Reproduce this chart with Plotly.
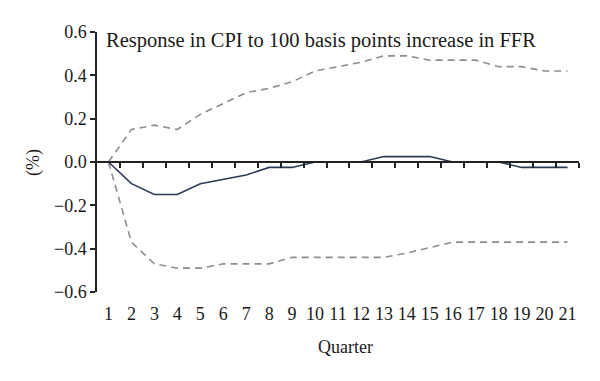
import plotly.graph_objects as go

quarters = list(range(1, 22))
response = [0, -0.10, -0.15, -0.15, -0.10, -0.08, -0.06, -0.025, -0.025, 0, 0, 0,
            0.025, 0.025, 0.025, 0, 0, 0, -0.025, -0.025, -0.025]
upper = [0, 0.15, 0.17, 0.15, 0.22, 0.27, 0.32, 0.34, 0.37, 0.42, 0.44, 0.46,
         0.49, 0.49, 0.47, 0.47, 0.47, 0.44, 0.44, 0.42, 0.42]
lower = [0, -0.37, -0.47, -0.49, -0.49, -0.47, -0.47, -0.47, -0.44, -0.44, -0.44, -0.44,
         -0.44, -0.42, -0.395, -0.37, -0.37, -0.37, -0.37, -0.37, -0.37]
y_ticks = [0.6, 0.4, 0.2, 0.0, -0.2, -0.4, -0.6]
y_tick_text = ["0.6", "0.4", "0.2", "0.0", "\u22120.2", "\u22120.4", "\u22120.6"]
title_text = "Response in CPI to 100 basis points increase in FFR"

FONT = "Liberation Serif"
fig = go.Figure()
dash_style = dict(color="#8e8e8e", width=1.6, dash="7px,5px")
fig.add_trace(go.Scatter(x=quarters, y=upper, mode="lines", line=dash_style, showlegend=False))
fig.add_trace(go.Scatter(x=quarters, y=lower, mode="lines", line=dash_style, showlegend=False))
fig.add_trace(go.Scatter(x=quarters, y=response, mode="lines",
                         line=dict(color="#2c3b55", width=1.6), showlegend=False))
# invisible trace so the zero-line axis (xaxis2) is drawn
fig.add_trace(go.Scatter(x=[quarters[0]], y=[0], xaxis="x2", mode="markers",
                         marker=dict(opacity=0), showlegend=False, hoverinfo="skip"))

ymin, ymax = min(y_ticks), max(y_ticks)
xr = [quarters[0] - 0.5, quarters[-1] + 0.5]
zero_pos = (0 - ymin) / (ymax - ymin)

fig.update_layout(
    width=600, height=381,
    margin=dict(l=97, r=21, t=32, b=89),
    paper_bgcolor="white", plot_bgcolor="white",
    font=dict(family=FONT, size=18, color="#1a1a1a"),
    xaxis=dict(range=xr, tickvals=quarters, ticktext=[str(q) for q in quarters],
               showline=False, showgrid=False, zeroline=False, ticks="",
               ticklabelstandoff=9, automargin=False),
    xaxis2=dict(range=xr, overlaying="x", anchor="free", position=zero_pos,
                tickvals=[q + 0.5 for q in quarters], showticklabels=False,
                showline=True, linecolor="#222", linewidth=1.5,
                ticks="outside", ticklen=5, tickwidth=1.5, tickcolor="#222",
                showgrid=False, zeroline=False, automargin=False),
    yaxis=dict(range=[ymin, ymax], tickvals=y_ticks, ticktext=y_tick_text,
               showline=True, linecolor="#222", linewidth=1.5,
               ticks="outside", ticklen=5, tickwidth=1.5, tickcolor="#222",
               showgrid=False, zeroline=False, automargin=False),
    annotations=[
        dict(text=title_text, xref="paper", yref="paper", x=0.014, y=1.0,
             xanchor="left", yanchor="middle", yshift=-8, showarrow=False,
             font=dict(size=20.5)),
        dict(text="(%)", xref="paper", yref="paper", x=-0.133, y=zero_pos,
             xanchor="center", yanchor="middle", textangle=-90, showarrow=False),
        dict(text="Quarter", xref="paper", yref="paper", x=0.515, y=0,
             xanchor="center", yanchor="middle", yshift=-55, showarrow=False),
    ],
)
fig.write_html("out.html", config={"displayModeBar": False},
               post_script="document.body.style.margin='0';")
